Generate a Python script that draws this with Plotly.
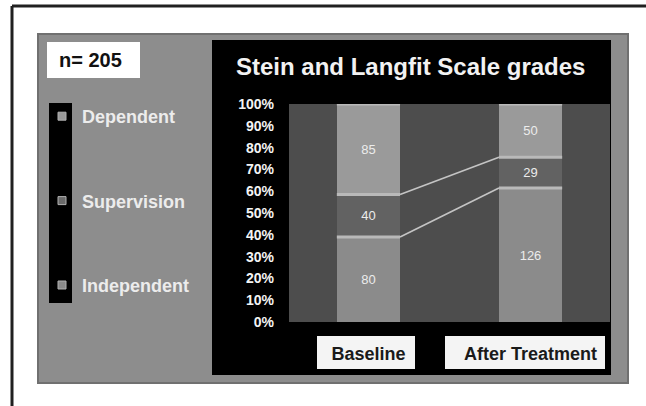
import numpy as np
import plotly.graph_objects as go

# ---- data ----
categories = ["Baseline", "After Treatment"]
series_names = ["Independent", "Supervision", "Dependent"]
independent = [80, 126]
supervision = [40, 29]
dependent = [85, 50]
n_total = 205
title_text = "Stein and Langfit Scale grades"
y_ticks = [0, 10, 20, 30, 40, 50, 60, 70, 80, 90, 100]
y_tick_labels = ["%d%%" % v for v in y_ticks]

series_values = [independent, supervision, dependent]
bar_colors = ["#8b8b8b", "#626262", "#9a9a9a"]
legend_colors = ["#8a8a8a", "#6a6a6a", "#9a9a9a"]

W, H = 646, 406


def px(x):
    return x / W


def py(y):
    return 1 - y / H


x_pos = np.arange(len(categories))
bar_w = 0.39

fig = go.Figure()

for name, vals, col in zip(series_names, series_values, bar_colors):
    fig.add_trace(go.Bar(
        x=x_pos, y=vals, name=name, width=bar_w,
        marker=dict(color=col, line=dict(width=0)),
        text=[str(v) for v in vals], textposition="inside",
        insidetextanchor="middle", texttemplate="%{text}",
        textfont=dict(color="#ececec", size=13, family="Liberation Sans"),
        showlegend=False, hoverinfo="skip",
    ))

# percent boundaries (series lines)
totals = np.sum(np.array(series_values), axis=0)
cum = np.cumsum(np.array(series_values), axis=0) / totals * 100.0
for k in range(cum.shape[0]):
    c = cum[k]
    for i in range(len(categories)):
        fig.add_trace(go.Scatter(
            x=[x_pos[i] - bar_w / 2, x_pos[i] + bar_w / 2], y=[c[i], c[i]],
            mode="lines", line=dict(color="#b9b9b9", width=3),
            showlegend=False, hoverinfo="skip"))
    if k < cum.shape[0] - 1:
        fig.add_trace(go.Scatter(
            x=[x_pos[0] + bar_w / 2, x_pos[1] - bar_w / 2], y=[c[0], c[1]],
            mode="lines", line=dict(color="#c4c4c4", width=1.6),
            showlegend=False, hoverinfo="skip"))

# legend entries (Dependent on top)
for rank, (name, col) in enumerate(zip(series_names, legend_colors)):
    fig.add_trace(go.Scatter(
        x=[None], y=[None], mode="markers", name=name, legendgroup=name,
        legendrank=10 - rank,
        marker=dict(symbol="square", size=8, color=col,
                    line=dict(color="#b0b0b0", width=1)),
    ))


def rect(x0, y0, x1, y1, fill, line=None, layer="below"):
    return dict(type="rect", xref="paper", yref="paper",
                x0=px(x0), x1=px(x1), y0=py(y1), y1=py(y0),
                fillcolor=fill, line=line or dict(width=0), layer=layer)


shapes = [
    rect(38, 34, 628, 383, "#8d8d8d", dict(color="#707070", width=2)),
    rect(212, 40, 611, 375, "#000000"),
    # plot area background
    dict(type="rect", xref="x domain", yref="y domain", x0=0, x1=1, y0=0, y1=1,
         fillcolor="#4d4d4d", line=dict(width=0), layer="below"),
    rect(47, 42, 140, 78, "#ffffff"),
    rect(49, 103, 72, 303, "#000000"),
    rect(317, 336, 415, 369, "#f4f4f4"),
    rect(445, 336, 605, 369, "#f4f4f4"),
    dict(type="line", xref="paper", yref="paper", x0=px(12), x1=px(12), y0=py(6), y1=py(406),
         line=dict(color="#202020", width=3)),
    dict(type="line", xref="paper", yref="paper", x0=px(12), x1=px(646), y0=py(6), y1=py(6),
         line=dict(color="#202020", width=3)),
]

annotations = [
    dict(text="n= %d" % n_total, x=px(91), y=py(60), xref="paper", yref="paper",
         xanchor="center", yanchor="middle", showarrow=False,
         font=dict(size=20, color="#111111", family="Liberation Sans", weight="bold")),
    dict(text=title_text, x=px(410), y=py(66), xref="paper", yref="paper",
         xanchor="center", yanchor="middle", showarrow=False,
         font=dict(size=24, color="#f2f2f2", family="Liberation Sans", weight="bold")),
]

fig.update_layout(
    width=W, height=H, autosize=False,
    margin=dict(l=0, r=0, t=0, b=0, pad=0, autoexpand=False),
    paper_bgcolor="#ffffff", plot_bgcolor="rgba(0,0,0,0)",
    barmode="stack", barnorm="percent", bargap=0,
    shapes=shapes, annotations=annotations,
    showlegend=True,
    legend=dict(x=px(42), y=py(98), xanchor="left", yanchor="top",
                bgcolor="rgba(0,0,0,0)", borderwidth=0,
                font=dict(size=18, color="#ececec", family="Liberation Sans", weight="bold"),
                traceorder="grouped", tracegroupgap=58,
                itemclick=False, itemdoubleclick=False),
    xaxis=dict(domain=[px(289), px(610)], range=[-0.49, 1.49], automargin=False,
               tickmode="array", tickvals=list(x_pos), ticktext=categories,
               showgrid=False, zeroline=False, showline=False, ticks="",
               ticklabelstandoff=19,
               tickfont=dict(size=18, color="#1a1a1a", family="Liberation Sans", weight="bold")),
    yaxis=dict(domain=[py(322), py(104)], range=[0, 100], automargin=False,
               tickmode="array", tickvals=y_ticks, ticktext=y_tick_labels,
               showgrid=False, zeroline=False, showline=False, ticks="",
               ticklabelstandoff=14,
               tickfont=dict(size=14, color="#f4f4f4", family="Liberation Sans", weight="bold")),
)

fig.write_html("out.html", config={"displayModeBar": False},
               post_script=("document.body.style.margin='0';"
                            "document.body.style.overflow='hidden';"
                            "document.documentElement.style.overflow='hidden';"))
